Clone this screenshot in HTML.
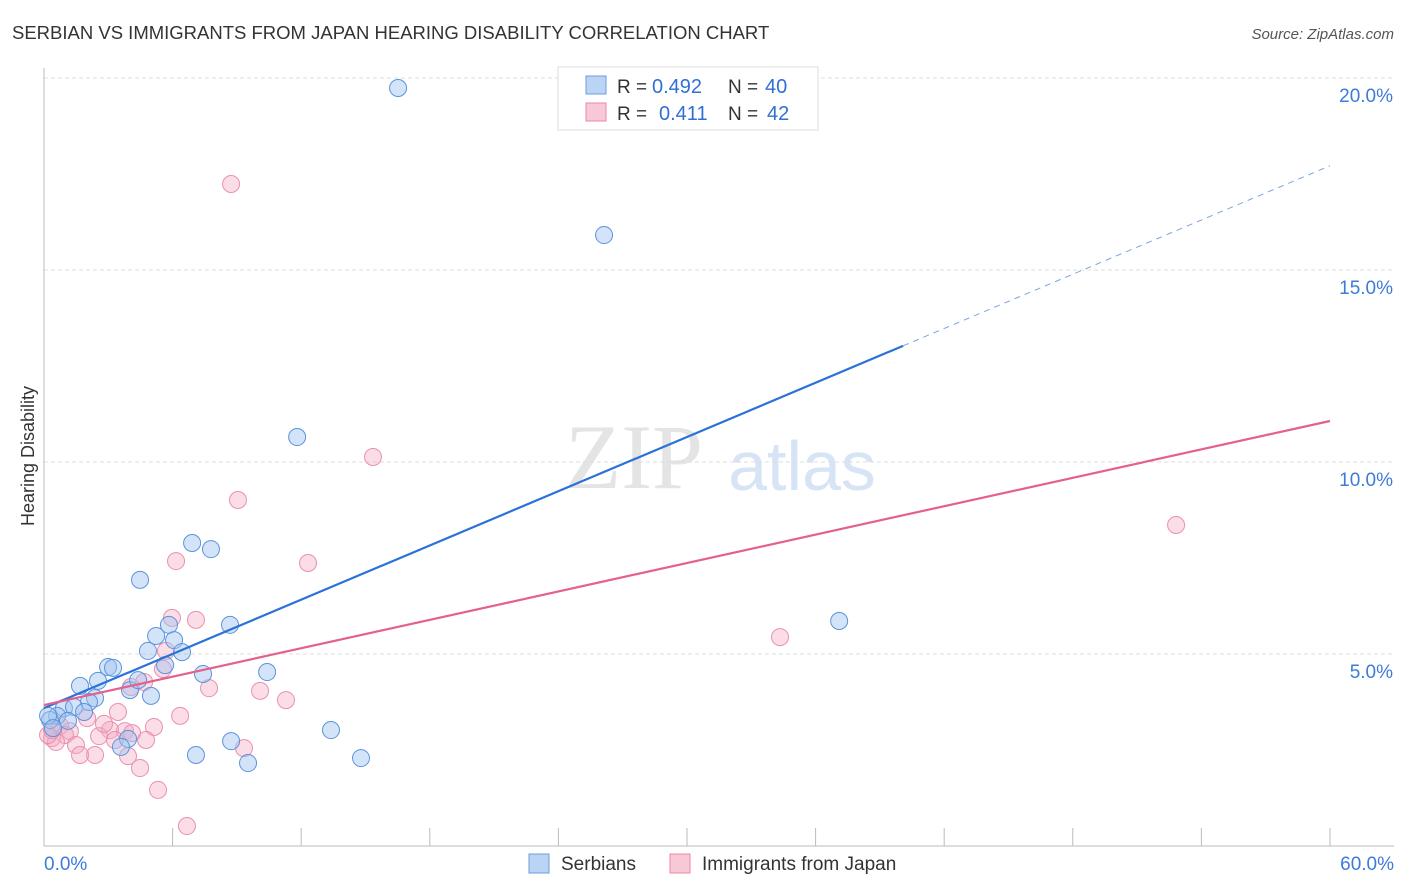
<!DOCTYPE html>
<html><head><meta charset="utf-8"><style>
body{margin:0;background:#fff;font-family:"Liberation Sans",sans-serif;}
#wrap{position:relative;width:1406px;height:892px;overflow:hidden;}
</style></head><body>
<div id="wrap">
<svg id="svg" width="1406" height="892" xmlns="http://www.w3.org/2000/svg">
<text x="12" y="39" font-size="18.5" fill="#333">SERBIAN VS IMMIGRANTS FROM JAPAN HEARING DISABILITY CORRELATION CHART</text>
<text x="1394" y="39" font-size="15" fill="#555" font-style="italic" text-anchor="end">Source: ZipAtlas.com</text>
<text x="634" y="488" font-size="92" fill="#e4e4e4" font-family="Liberation Serif" text-anchor="middle">ZIP</text>
<text x="802" y="490" font-size="70" fill="#d6e4f5" text-anchor="middle">atlas</text>
<text transform="translate(34,456) rotate(-90)" font-size="18" fill="#333" text-anchor="middle">Hearing Disability</text>
<g id="grid"></g><g id="ticks"></g><g id="pts"></g><g id="lines"></g>
<g>
<rect x="558" y="67" width="260" height="63" fill="#fff" stroke="#ddd"/>
<rect x="586" y="76" width="20" height="18" fill="#bcd4f3" stroke="#6a9ee0"/>
<rect x="586" y="103" width="20" height="18" fill="#f9c8d6" stroke="#e88aa6"/>
<text x="617" y="93" font-size="19" fill="#333">R =</text>
<text x="652" y="93" font-size="20" fill="#2f6fd6">0.492</text>
<text x="728" y="93" font-size="19" fill="#333">N =</text>
<text x="765" y="93" font-size="20" fill="#2f6fd6">40</text>
<text x="617" y="120" font-size="19" fill="#333">R =</text>
<text x="659" y="120" font-size="20" fill="#2f6fd6">0.411</text>
<text x="728" y="120" font-size="19" fill="#333">N =</text>
<text x="767" y="120" font-size="20" fill="#2f6fd6">42</text>
</g>
<g>
<rect x="529" y="854" width="20" height="19" fill="#bcd4f3" stroke="#6a9ee0"/>
<text x="561" y="870" font-size="19" fill="#333">Serbians</text>
<rect x="670" y="854" width="20" height="19" fill="#f9c8d6" stroke="#e88aa6"/>
<text x="702" y="870" font-size="19" fill="#333">Immigrants from Japan</text>
</g>
</svg>
<script>
const blueX=[16.52,26.13,11.81,6.91,7.79,4.48,8.68,37.10,5.83,5.23,6.07,4.85,6.44,5.65,2.99,3.22,7.42,10.41,2.52,1.68,4.01,4.39,4.99,2.38,2.10,0.93,1.40,1.87,0.61,0.28,1.12,0.19,3.92,3.59,8.73,13.39,7.09,9.52,14.79,0.42];
const blueY=[19.74,15.91,10.65,7.89,7.73,6.93,5.76,5.86,5.76,5.47,5.36,5.08,5.05,4.71,4.66,4.64,4.48,4.53,4.30,4.17,4.06,4.32,3.91,3.85,3.75,3.59,3.62,3.49,3.39,3.28,3.26,3.39,2.79,2.58,2.73,3.02,2.37,2.16,2.29,3.07];
const pinkX=[8.73,15.35,9.05,52.82,6.16,12.32,5.97,7.09,34.34,5.69,5.55,4.67,4.06,7.70,10.08,11.29,6.35,3.45,2.01,5.13,0.75,1.21,3.08,3.78,4.11,2.57,4.76,3.31,0.98,0.37,0.56,1.49,2.38,1.68,3.92,9.33,4.48,5.32,6.67,0.19,0.37,2.80];
const pinkY=[17.24,10.13,9.01,8.36,7.42,7.37,5.94,5.89,5.44,5.08,4.61,4.27,4.14,4.11,4.04,3.80,3.39,3.49,3.33,3.10,3.13,2.99,3.02,2.99,2.94,2.86,2.76,2.76,2.89,2.81,2.71,2.63,2.37,2.37,2.34,2.55,2.03,1.46,0.52,2.89,3.02,3.18];
const yTicks=[5,10,15,20];
const yTickLabels=["5.0%","10.0%","15.0%","20.0%"];
const xTicks=[0,6,12,18,24,30,36,42,48,54,60];
const blueTrend=[3.59,0.2354]; const blueSolidEnd=40.08;
const pinkTrend=[3.67,0.1233];
const NS="http://www.w3.org/2000/svg";
const sx=v=>44+v*21.433, sy=v=>846-v*38.4;
function mk(tag,attrs,parent){const e=document.createElementNS(NS,tag);for(const k in attrs)e.setAttribute(k,attrs[k]);parent.appendChild(e);return e;}
const gridG=document.getElementById('grid'),ticksG=document.getElementById('ticks'),ptsG=document.getElementById('pts'),linesG=document.getElementById('lines');
yTicks.forEach((t,i)=>{
 const g=mk('line',{x1:44,x2:1394,y1:sy(t),y2:sy(t),stroke:'#ddd','stroke-dasharray':'4,3'},gridG);
 
 
 const tx=mk('text',{x:1393,y:sy(t)+24,'font-size':19,fill:'#3d7bd9','text-anchor':'end'},ticksG);
 tx.textContent=yTickLabels[i];
 
 
});
const topLine=mk('line',{x1:44,x2:1394,y1:78,y2:78,stroke:'#ddd','stroke-dasharray':'4,3'},gridG);


const ya=mk('line',{x1:44,x2:44,y1:68,y2:846,stroke:'#bbb'},ticksG);


const xa=mk('line',{x1:44,x2:1394,y1:846,y2:846,stroke:'#bbb'},ticksG);


xTicks.forEach(t=>{const l=mk('line',{x1:sx(t),x2:sx(t),y1:828,y2:846,stroke:'#bbb'},ticksG);
 
 });
const xl0=mk('text',{x:44,y:870,'font-size':19,fill:'#3d7bd9'},ticksG);xl0.textContent='0.0%';


const xl1=mk('text',{x:1394,y:870,'font-size':19,fill:'#3d7bd9','text-anchor':'end'},ticksG);xl1.textContent='60.0%';


pinkX.forEach((x,i)=>{const c=mk('circle',{cx:sx(x),cy:sy(pinkY[i]),r:8.5,fill:'rgba(246,170,195,0.4)',stroke:'#e991ae','stroke-width':1},ptsG);
 
 });
blueX.forEach((x,i)=>{const c=mk('circle',{cx:sx(x),cy:sy(blueY[i]),r:8.5,fill:'rgba(160,195,240,0.45)',stroke:'#5c93dc','stroke-width':1},ptsG);
 
 });
const f=(tr,x)=>tr[0]+tr[1]*x;
const b1=mk('line',{x1:sx(0),y1:sy(f(blueTrend,0)),x2:sx(blueSolidEnd),y2:sy(f(blueTrend,blueSolidEnd)),stroke:'#2a72d8','stroke-width':2.2},linesG);


const b2=mk('line',{x1:sx(blueSolidEnd),y1:sy(f(blueTrend,blueSolidEnd)),x2:sx(60),y2:sy(f(blueTrend,60)),stroke:'#7aa5e3','stroke-width':1,'stroke-dasharray':'6,5'},linesG);


const p1=mk('line',{x1:sx(0),y1:sy(f(pinkTrend,0)),x2:sx(60),y2:sy(f(pinkTrend,60)),stroke:'#e4608e','stroke-width':2.2},linesG);


</script>
</div></body></html>
